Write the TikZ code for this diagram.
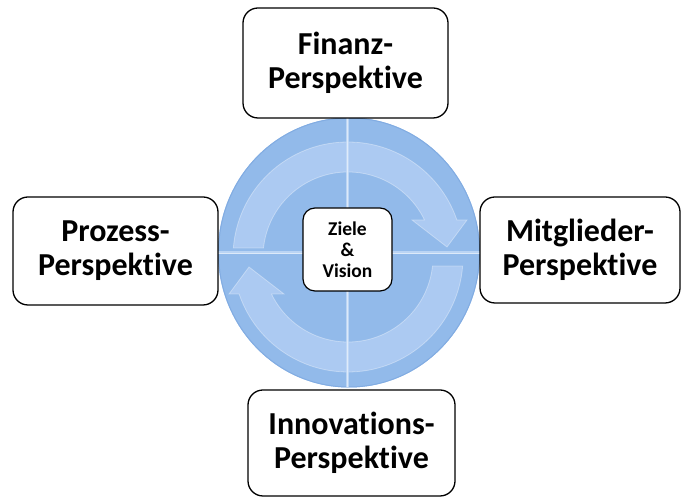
\documentclass[tikz,border=0pt]{standalone}
\usepackage{fontspec}
\setmainfont{Carlito}[Ligatures={NoCommon,NoContextual}]
\definecolor{wheelfill}{RGB}{146,186,234}
\definecolor{wheelrim}{RGB}{130,172,226}
\definecolor{arrowfill}{RGB}{172,202,242}
\definecolor{crossline}{RGB}{196,219,247}
\tikzset{
  persp/.style={draw=black, line width=1.3pt, rounded corners=15pt, fill=white,
    align=center, inner sep=0pt, font=\fontsize{32}{34}\selectfont\bfseries},
  centerbox/.style={draw=black, line width=1.2pt, rounded corners=12pt, fill=white,
    align=center, inner sep=0pt, font=\fontsize{19.5}{21}\selectfont\bfseries},
  ringarrow/.style={fill=arrowfill, draw=white, draw opacity=0.35, line width=0.8pt}
}
\begin{document}
\begin{tikzpicture}[x=1pt,y=1pt]
\useasboundingbox (0,0) rectangle (683,497);
% wheel
\coordinate (wc) at (349,244.5);
\coordinate (ac) at (348,240);
\fill[wheelfill] (wc) ellipse [x radius=131, y radius=135];
\draw[wheelrim, line width=1pt] (wc) ellipse [x radius=130.5, y radius=134.5];
% upper arrow
\begin{scope}[shift={(ac)}]
  \path[ringarrow] (175.5:115) arc[start angle=175.5, end angle=18.77, radius=115]
    -- (119,37) -- (99,10) -- (64,37) -- (25.8:85)
    arc[start angle=25.8, end angle=173.9, radius=85] -- cycle;
\end{scope}
% lower arrow
\begin{scope}[shift={(ac)}, rotate=180]
  \path[ringarrow] (175.5:115) arc[start angle=175.5, end angle=18.77, radius=115]
    -- (119,37) -- (99,10) -- (64,37) -- (25.8:85)
    arc[start angle=25.8, end angle=173.9, radius=85] -- cycle;
\end{scope}
% cross
\coordinate (ct) at (347,379.5);
\coordinate (cb) at (347,109.5);
\coordinate (cl) at (218,244);
\coordinate (cr) at (480,244);
\draw[crossline, line width=3pt, opacity=0.8] (ct) -- (cb);
\draw[crossline, line width=3pt, opacity=0.8] (cl) -- (cr);
\draw[white, line width=0.8pt, opacity=0.5] (ct) -- (cb);
\draw[white, line width=0.8pt, opacity=0.5] (cl) -- (cr);
% boxes
\node[persp, minimum width=205, minimum height=110] (fin) at (345.5,434) {Finanz-\\Perspektive};
\node[persp, minimum width=205, minimum height=108] (proz) at (115.5,246) {Prozess-\\Perspektive};
\node[persp, minimum width=200, minimum height=106] (mitg) at (580,247) {Mitglieder-\\Perspektive};
\node[persp, minimum width=207, minimum height=106] (innov) at (351.5,54) {Innovations-\\Perspektive};
\node[centerbox, minimum width=89, minimum height=83] (ziele) at (347.5,247.5) {Ziele\\\&\\Vision};
\end{tikzpicture}
\end{document}
